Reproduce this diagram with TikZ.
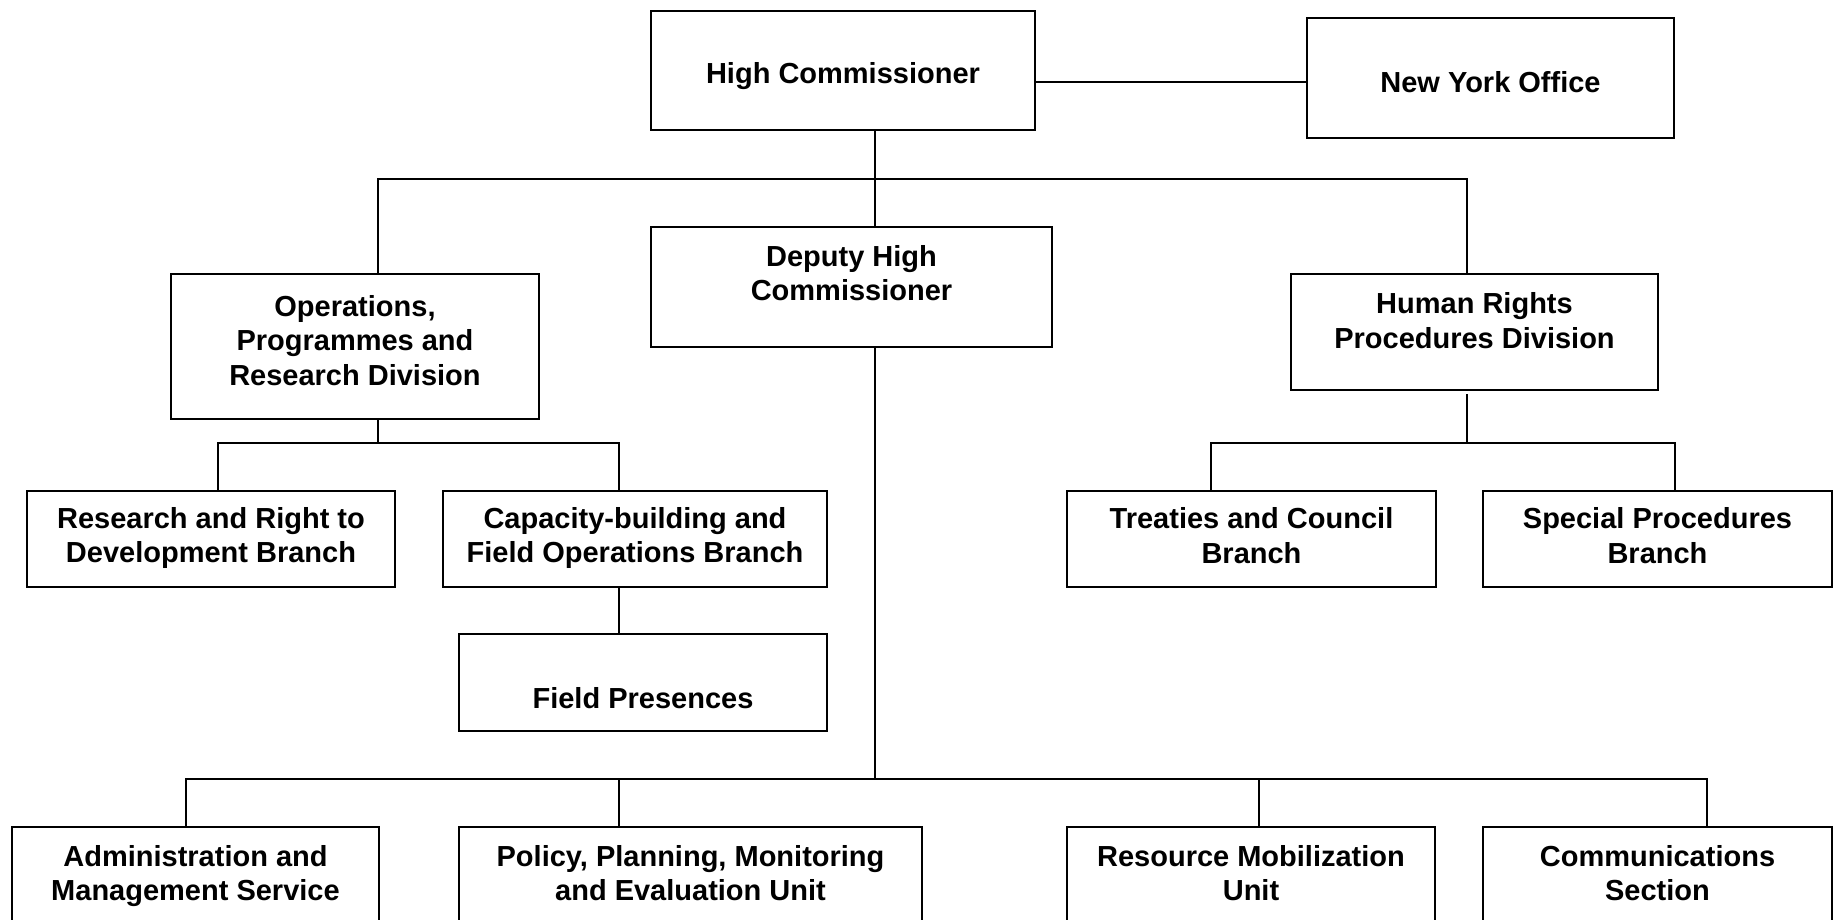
\documentclass[tikz,border=0pt]{standalone}
\usepackage{fontspec}
\setmainfont{Liberation Sans}
\newcommand\obox[5]{\node[box, minimum width={(#4)-(#2)}, minimum height={(#5)-(#3)}] (#1) at ({((#2)+(#4))/2},{((#3)+(#5))/2}) {};}
\begin{document}
\begin{tikzpicture}[x=1pt,y=-1pt,
  box/.style={draw, line width=2pt, inner sep=0pt, outer sep=0pt},
  lbl/.style={anchor=north, inner sep=0pt, align=center, font=\fontsize{29}{34.5}\selectfont\bfseries},
  conn/.style={line width=1.6pt}]
\useasboundingbox (0,0) rectangle (1834,920);
\clip (0,0) rectangle (1834,920);
\fill[white] (0,0) rectangle (1834,920);

% boxes: name, left, top, right, bottom
\obox{hc}{651}{11}{1035}{130}
\obox{ny}{1307}{18}{1674}{138}
\obox{dhc}{651}{227}{1052}{347}
\obox{oprd}{171}{274}{539}{419}
\obox{hrpd}{1291}{274}{1658}{390}
\obox{research}{27}{491}{395}{587}
\obox{capacity}{443}{491}{827}{587}
\obox{fp}{459}{634}{827}{731}
\obox{treaties}{1067}{491}{1436}{587}
\obox{special}{1483}{491}{1832}{587}
\obox{admin}{12}{827}{379}{960}
\obox{policy}{459}{827}{922}{960}
\obox{resource}{1067}{827}{1435}{960}
\obox{comm}{1483}{827}{1832}{960}

% labels
\node[lbl] (thc) at (843,62.6) {High Commissioner};
\node[lbl] (tny) at (1490.5,71.6) {New York Office};
\node[lbl] (tdhc) at (851.5,245) {Deputy High\\Commissioner};
\node[lbl] (toprd) at (355,294.9) {Operations,\\Programmes and\\Research Division};
\node[lbl] (thrpd) at (1474.5,292.4) {Human Rights\\Procedures Division};
\node[lbl] (tresearch) at (211,506.9) {Research and Right to\\Development Branch};
\node[lbl] (tcapacity) at (635,506.9) {Capacity-building and\\Field Operations Branch};
\node[lbl] (ttreaties) at (1251.5,507.6) {Treaties and Council\\Branch};
\node[lbl] (tspecial) at (1657.5,507.6) {Special Procedures\\Branch};
\node[lbl] (tfp) at (643,687.6) {Field Presences};
\node[lbl] (tadmin) at (195.5,844.9) {Administration and\\Management Service};
\node[lbl] (tpolicy) at (690.5,844.9) {Policy, Planning, Monitoring\\and Evaluation Unit};
\node[lbl] (tresource) at (1251,844.9) {Resource Mobilization\\Unit};
\node[lbl] (tcomm) at (1657.5,844.9) {Communications\\Section};

% junction coordinates
\coordinate (yNY) at (0,82);
\coordinate (xTrunk) at (875,0);
\coordinate (bTop) at (378,179);
\coordinate (bTopR) at (1467,179);
\coordinate (xO) at (378,443);
\coordinate (bO1) at (218,443);
\coordinate (bO2) at (619,443);
\coordinate (xH) at (1467,443);
\coordinate (bH1) at (1211,443);
\coordinate (bH2) at (1675,443);
\coordinate (xD) at (875,779);
\coordinate (bB1) at (186,779);
\coordinate (bB2) at (619,779);
\coordinate (bB3) at (1259,779);
\coordinate (bB4) at (1707,779);

% connectors
\draw[conn] (hc.east |- yNY) -- (ny.west |- yNY);
\draw[conn] (hc.south -| xTrunk) -- (dhc.north -| xTrunk);
\draw[conn] (oprd.north -| bTop) -- (bTop) -- (bTopR) -- (hrpd.north -| bTopR);
\draw[conn] (oprd.south -| xO) -- (xO);
\draw[conn] (research.north -| bO1) -- (bO1) -- (bO2) -- (capacity.north -| bO2);
\draw[conn] (capacity.south -| bO2) -- (fp.north -| bO2);
\draw[conn] ([yshift=-4pt]hrpd.south -| xH) -- (xH);
\draw[conn] (treaties.north -| bH1) -- (bH1) -- (bH2) -- (special.north -| bH2);
\draw[conn] (dhc.south -| xD) -- (xD);
\draw[conn] (admin.north -| bB1) -- (bB1) -- (bB4) -- (comm.north -| bB4);
\draw[conn] (policy.north -| bB2) -- (bB2);
\draw[conn] (resource.north -| bB3) -- (bB3);
\end{tikzpicture}
\end{document}
